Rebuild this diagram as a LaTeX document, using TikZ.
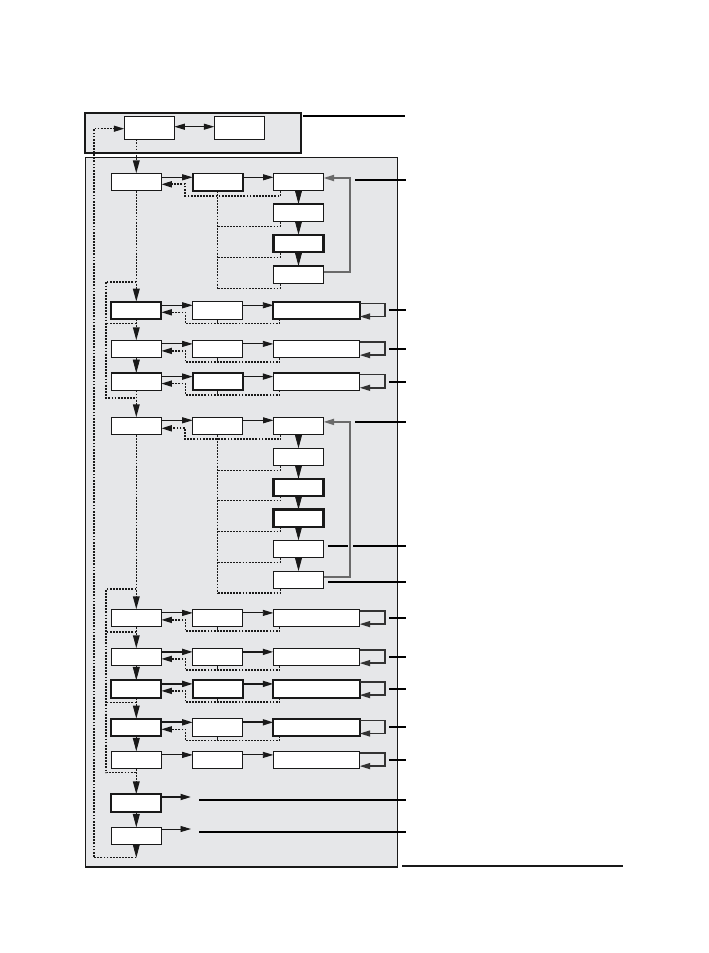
\documentclass[tikz,border=0pt]{standalone}
\usetikzlibrary{arrows.meta,calc}
\definecolor{panelgray}{HTML}{E6E7E9}
\definecolor{fbgray}{HTML}{6A6A6A}
\definecolor{loopgray}{HTML}{333333}
\begin{document}
\begin{tikzpicture}[x=1pt,y=-1pt,
  bx/.style={draw=black!90,fill=white,minimum width=50pt,minimum height=17.4pt,inner sep=0pt,outer sep=0pt},
  bxw/.style={bx,minimum width=86.4pt},
  tn/.style={line width=1.2pt},
  tk/.style={line width=2.1pt},
  dotl/.style={black!90,line width=1.4pt,dash pattern=on 1.8pt off 1.3pt},
  htip/.style={-{Triangle[length=10.5pt,width=6pt]}},
  arr/.style={black!90,line width=0.9pt,htip},
  arrk/.style={black!90,line width=1.7pt,htip},
  ret/.style={dotl,htip},
  dar/.style={dotl,-{Triangle[length=13pt,width=6.6pt]}},
  tri/.style={black!90,line width=0.8pt,-{Triangle[length=13.5pt,width=7pt]}},
  fb/.style={fbgray,line width=1.7pt,htip},
  lp/.style={loopgray,line width=1.5pt,htip},
  lead/.style={black,line width=2pt},
  tick/.style={black!90,line width=1pt}
]
\useasboundingbox (0,0) rectangle (709,953);

% panels
\node[draw=black!90,line width=1pt,fill=panelgray,minimum width=311.8pt,minimum height=708.7pt,inner sep=0pt] (panel) at (241.4,511.65) {};
\draw[black!90,line width=2pt] (panel.south west) -- (panel.south east);
\node[draw=black!90,line width=1.8pt,fill=panelgray,minimum width=215.4pt,minimum height=40pt,inner sep=0pt] (grp) at (193,132.7) {};

% top group boxes
\node[bx,line width=1.6pt,minimum height=22.7pt] (A) at (149.3,128) {};
\node[bx,tn,minimum height=22.7pt] (B) at (239.3,128) {};
\draw[black!90,line width=1pt,{Triangle[length=10.5pt,width=6pt]}-{Triangle[length=10.5pt,width=6pt]}] ([yshift=1.3pt]A.east) -- ([yshift=1.3pt]B.west);

% row 1
\node[bx,tn] (c1r1) at (136.3,182) {};
\node[bx,line width=1.6pt] (c2r1) at (217.7,182) {};
\node[bx,tn] (c3r1a) at (298.5,182) {};
\node[bx,tn] (c3r1b) at (298.5,212.7) {};
\node[bx,tk] (c3r1c) at (298.5,243.4) {};
\node[bx,tn] (c3r1d) at (298.5,274.7) {};

% row 5
\node[bx,tn] (c1r5) at (136.3,426) {};
\node[bx,tn] (c2r5) at (217.7,426) {};
\node[bx,tn] (c3r5a) at (298.5,426) {};
\node[bx,tn] (c3r5b) at (298.5,457) {};
\node[bx,tk] (c3r5c) at (298.5,487.5) {};
\node[bx,tk] (c3r5d) at (298.5,518.2) {};
\node[bx,tn] (c3r5e) at (298.5,549) {};
\node[bx,tn] (c3r5f) at (298.5,579.8) {};

% generic rows
\foreach \r/\t/\sa/\sb/\sc/\aa in {2/301.7/tk/tn/tk/arr, 3/340.3/tn/tn/tn/arr, 4/373/tn/tk/tn/arrk, 6/609.3/tn/tn/tn/arr, 7/648.3/tn/tn/tn/arrk, 8/680.3/tk/tk/tk/arrk, 9/718.7/tk/tn/tk/arrk, 10/751.3/tn/tn/tn/arr} {
  \node[bx,\sa] (c1r\r) at (136.3,\t+8.7) {};
  \node[bx,\sb] (c2r\r) at (217.7,\t+8.7) {};
  \node[bxw,\sc] (c3r\r) at (316.5,\t+8.7) {};
  \draw[\aa] ($(c1r\r.north east)+(0,3.6)$) -- ($(c2r\r.north west)+(0,3.6)$);
  \draw[\aa] ($(c2r\r.north east)+(0,3.6)$) -- ($(c3r\r.north west)+(0,3.6)$);
  \draw[lp] ($(c3r\r.north east)+(0,1.6)$) -- ++(25.3,0) |- ($(c3r\r.south east)+(0,-2.6)$);
  \draw[lead] ($(c3r\r.east)+(29.3,0)$) -- ($(c3r\r.east)+(46,0)$);
}
\foreach \r in {2,3,4,6,7,8,9} {
  \draw[ret] ($(c3r\r.south west)+(6,0)$) -- ++(0,4.4) -| ($(c1r\r.north east)+(24,10.6)$) -- ($(c1r\r.north east)+(0,10.6)$);
  \draw[tick] (c2r\r.south) -- ++(0,4.4);
}

% rows 11, 12
\node[bx,tk] (c1r11) at (136.3,803) {};
\node[bx,tn] (c1r12) at (136.3,836) {};
\coordinate (o11) at (191,797);
\coordinate (o12) at (191,829);
\draw[arrk] ($(c1r11.north east)+(0,2.7)$) -- (o11);
\draw[arr] ($(c1r12.north east)+(0,1.7)$) -- (o12);
\coordinate (p11a) at (199,800); \coordinate (p11b) at (405.7,800);
\coordinate (p12a) at (199,831.7); \coordinate (p12b) at (405.7,831.7);
\draw[lead] (p11a) -- (p11b);
\draw[lead] (p12a) -- (p12b);

% row 1 connectors
\draw[arr] ($(c1r1.north east)+(0,4)$) -- ($(c2r1.north west)+(0,4)$);
\draw[arr] ($(c2r1.north east)+(0,4)$) -- ($(c3r1a.north west)+(0,4)$);
\draw[ret,line width=1.8pt] ($(c3r1a.south west)+(7,0)$) -- ++(0,5) -| ($(c1r1.north east)+(24,11)$) -- ($(c1r1.north east)+(0,11)$);
\draw[dotl,line width=1.2pt] (c2r1.south) -- ($(c2r1.south |- c3r1d.south)+(0,5.7)$);
\foreach \b in {b,c,d} {
  \draw[dotl,line width=1.2pt] ($(c2r1.south |- c3r1\b.south)+(0,5)$) -| ($(c3r1\b.south west)+(7,0)$);
}
\draw[tri] (c3r1a.south) -- (c3r1b.north);
\draw[tri] (c3r1b.south) -- (c3r1c.north);
\draw[tri] (c3r1c.south) -- (c3r1d.north);
\draw[fb] ($(c3r1d.east)+(0,-2.4)$) -- ++(26.3,0) |- ($(c3r1a.east)+(0,-4)$);
\coordinate (q1a) at (355,180); \coordinate (q1b) at (405.7,180);
\draw[lead] (q1a) -- (q1b);

% row 5 connectors
\draw[arr] ($(c1r5.north east)+(0,3)$) -- ($(c2r5.north west)+(0,3)$);
\draw[arr] ($(c2r5.north east)+(0,3)$) -- ($(c3r5a.north west)+(0,3)$);
\draw[ret,line width=1.8pt] ($(c3r5a.south west)+(7,0)$) -- ++(0,4.6) -| ($(c1r5.north east)+(24,11)$) -- ($(c1r5.north east)+(0,11)$);
\draw[dotl,line width=1.2pt] (c2r5.south) -- ($(c2r5.south |- c3r5f.south)+(0,5)$);
\foreach \b in {b,c,d,e,f} {
  \draw[dotl,line width=1.2pt] ($(c2r5.south |- c3r5\b.south)+(0,4.5)$) -| ($(c3r5\b.south west)+(7,0)$);
}
\draw[tri] (c3r5a.south) -- (c3r5b.north);
\draw[tri] (c3r5b.south) -- (c3r5c.north);
\draw[tri] (c3r5c.south) -- (c3r5d.north);
\draw[tri] (c3r5d.south) -- (c3r5e.north);
\draw[tri] (c3r5e.south) -- (c3r5f.north);
\coordinate (q5a) at (355,422); \coordinate (q5b) at (405.7,422);
\draw[lead] (q5a) -- (q5b);
\coordinate (q5e1) at (328,546); \coordinate (q5e2) at (347.7,546);
\coordinate (q5e3) at (353.3,546); \coordinate (q5e4) at (405.7,546);
\draw[lead] (q5e1) -- (q5e2);
\draw[lead] (q5e3) -- (q5e4);
\coordinate (q5f1) at (328,582); \coordinate (q5f2) at (405.7,582);
\draw[lead] (q5f1) -- (q5f2);
\draw[fb] ($(c3r5f.east)+(0,-2.8)$) -- ++(26.3,0) |- ($(c3r5a.east)+(0,-4.1)$);

% top group connectors
\coordinate (g1) at (303,115.7); \coordinate (g2) at (405,115.7);
\draw[lead] (g1) -- (g2);
\draw[dar,line width=1.6pt] ($(A.south)+(-13,0)$) -- (c1r1.north);

% column 1 flow
\draw[dar,line width=1.6pt] (c1r1.south) -- (c1r2.north);
\draw[dotl,line width=1.6pt] ($(c1r2.north)+(0,-20)$) -| ($(c1r4.south)+(-30.3,7.4)$) -- ($(c1r4.south)+(0,7.4)$);
\draw[dar] (c1r2.south) -- (c1r3.north);
\draw[dotl,line width=1.2pt] ($(c1r2.south)+(0,4.4)$) -- ++(-30.3,0);
\draw[tri] (c1r3.south) -- (c1r4.north);
\draw[dar,line width=1.6pt] (c1r4.south) -- (c1r5.north);
\draw[dar,line width=1.6pt] (c1r5.south) -- (c1r6.north);
\draw[dotl,line width=1.2pt] ($(c1r6.north)+(0,-20.3)$) -| ($(c1r10.south)+(-30.3,4)$) -- ($(c1r10.south)+(0,4)$);
\draw[dar] (c1r6.south) -- (c1r7.north);
\draw[dotl,line width=1.2pt] ($(c1r6.south)+(0,5.3)$) -- ++(-30.3,0);
\draw[tri] (c1r7.south) -- (c1r8.north);
\draw[dar] (c1r8.south) -- (c1r9.north);
\draw[dotl,line width=1.2pt] ($(c1r8.south)+(0,5)$) -- ++(-30.3,0);
\draw[tri] (c1r9.south) -- (c1r10.north);
\draw[dar,line width=1.6pt] (c1r10.south) -- (c1r11.north);
\draw[tri] (c1r11.south) -- (c1r12.north);
\coordinate (lb) at (136.3,857.7);
\draw[tri] (c1r12.south) -- (lb);
\draw[ret,line width=1.3pt] (lb) -| (94,128.7) -- ([yshift=-0.7pt]A.west);

% bottom rule
\coordinate (br1) at (402,866); \coordinate (br2) at (622.7,866);
\draw[black!90,line width=1.3pt] (br1) -- (br2);
\end{tikzpicture}
\end{document}
